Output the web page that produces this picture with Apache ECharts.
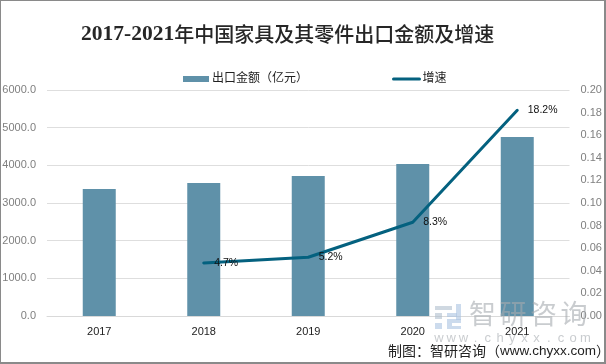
<!DOCTYPE html>
<html><head><meta charset="utf-8">
<style>html,body{margin:0;padding:0;background:#fff}#c{width:606px;height:364px}</style>
<script src="https://cdn.jsdelivr.net/npm/echarts@6/dist/echarts.min.js"></script>
</head><body><div id="c"></div>
<script>
const categories=['2017','2018','2019','2020','2021'];
const exportValues=[3372,3530,3717,4035,4752];
const growthValues=[null,0.047,0.052,0.083,0.182];
const growthLabels=['','4.7%','5.2%','8.3%','18.2%'];
const leftTicks=[0,1000,2000,3000,4000,5000,6000];
const titleYears='2017-2021';
const titleRest='年中国家具及其零件出口金额及增速';
const sourceA='制图：智研咨询（';
const sourceB='www.chyxx.com';
const sourceC='）';
const markName=['智','研','咨','询'];
const markSite=['w','w','w','.','c','h','y','x','x','.','c','o','m'];
const sans='"Liberation Sans","Noto Sans CJK SC",sans-serif';
const wm='rgba(165,170,175,0.6)';
const logo='rgba(170,195,225,0.6)';
const logoGrey='rgba(175,190,205,0.6)';
const marks=[];
markName.forEach((t,i)=>marks.push({type:'text',left:469+i*30.5,top:300,z:50,style:{text:t,fill:wm,font:'27px "Noto Sans CJK SC"'}}));
markSite.forEach((t,i)=>marks.push({type:'text',x:439+i*12.2,y:338,z:50,style:{text:t,fill:wm,font:'13px "Liberation Sans"',align:'center',verticalAlign:'middle'}}));
[[435,306,17,4,logoGrey],[435,313,7,6,logoGrey],[435,323,7,6,logo],[447,313,10,4,logo],[456,304,5,16,logo],[447,319,14,4,logo],[447,323,5,6,logo],[452,326,9,3,logo]]
 .forEach(r=>marks.push({type:'rect',x:r[0],y:r[1],z:50,shape:{width:r[2],height:r[3]},style:{fill:r[4]}}));
const chart=echarts.init(document.getElementById('c'),null,{renderer:'canvas'});
chart.setOption({
 animation:false,
 backgroundColor:'#fff',
 title:{text:'{a|'+titleYears+'}{b|'+titleRest+'}',left:76,top:18,
  textStyle:{rich:{
   a:{fontFamily:'"Liberation Serif",serif',fontSize:21.5,fontWeight:'bold',color:'#262626'},
   b:{fontFamily:'"Noto Sans CJK SC",serif',fontSize:20,fontWeight:500,color:'#262626'}}}},
 legend:{show:true,top:68,left:178,itemGap:84,itemWidth:26,itemHeight:6,
  textStyle:{fontFamily:sans,fontSize:12,color:'#222',padding:[0,0,0,-2]},
  data:[{name:'出口金额（亿元）',icon:'rect'},{name:'增速',itemStyle:{opacity:0},lineStyle:{width:3}}]},
 grid:{left:47,right:36.5,top:90,bottom:48,outerBoundsMode:'none'},
 xAxis:{type:'category',data:categories,
  axisLine:{lineStyle:{color:'#d9d9d9',width:1}},axisTick:{show:false},
  axisLabel:{color:'#222',fontSize:11,margin:10,fontFamily:'"Liberation Sans",sans-serif'}},
 yAxis:[
  {type:'value',min:leftTicks[0],max:leftTicks[leftTicks.length-1],interval:1000,
   axisLine:{show:false},axisTick:{show:false},
   splitLine:{lineStyle:{color:'#dedede',width:1}},
   axisLabel:{color:'#7f7f7f',fontSize:11,margin:11,formatter:v=>v.toFixed(1),fontFamily:'"Liberation Sans",sans-serif'}},
  {type:'value',min:0,max:0.2,interval:0.02,
   axisLine:{show:false},axisTick:{show:false},splitLine:{show:false},
   axisLabel:{color:'#7f7f7f',fontSize:11,margin:11,formatter:v=>v.toFixed(2),fontFamily:'"Liberation Sans",sans-serif'}}
 ],
 series:[
  {name:'出口金额（亿元）',type:'bar',data:exportValues,barWidth:33,itemStyle:{color:'#5f91a9'}},
  {name:'增速',type:'line',yAxisIndex:1,data:growthValues,smooth:false,symbol:'circle',symbolSize:1,showSymbol:true,
   lineStyle:{color:'#04617f',width:3,cap:'round',join:'round'},itemStyle:{color:'#04617f'},
   label:{show:true,position:'right',distance:10,color:'#111',fontSize:10.5,fontFamily:'"Liberation Sans",sans-serif',
    formatter:p=>growthLabels[p.dataIndex]}}
 ],
 graphic:marks.concat([
  {type:'rect',x:0,y:0,shape:{width:605,height:363},style:{fill:'none',stroke:'#8a8a8a',lineWidth:2},z:100},
  {type:'text',left:388,top:344,z:60,style:{text:'{a|'+sourceA+'}{b|'+sourceB+'}{a|'+sourceC+'}',
    rich:{a:{fill:'#222',font:'14px "Noto Sans CJK SC"'},b:{fill:'#222',font:'13.5px "Liberation Sans"'}}}}
 ])
});
</script></body></html>
